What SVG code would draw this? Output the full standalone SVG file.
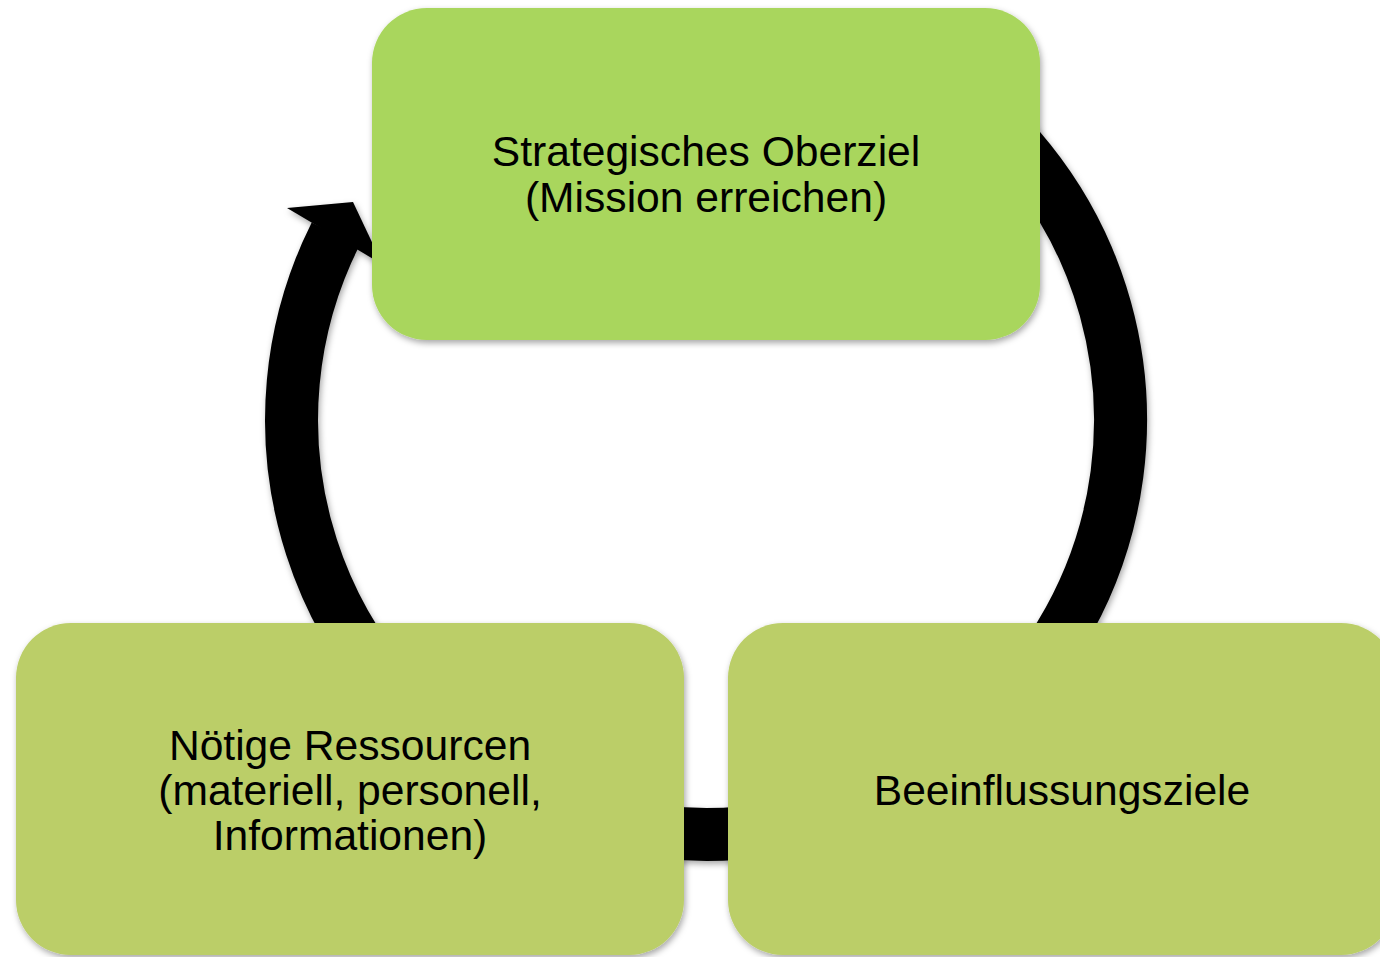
<svg xmlns="http://www.w3.org/2000/svg" width="1380" height="957" viewBox="0 0 1380 957">
  <defs>
    <filter id="shadow" x="-10%" y="-10%" width="120%" height="120%">
      <feDropShadow dx="1.5" dy="3" stdDeviation="3" flood-color="#000" flood-opacity="0.35"/>
    </filter>
  </defs>
  <style>
    .top { fill: #A9D65D; }
    .bottom { fill: #BBCE68; }
    .label { font-family: "Liberation Sans", Arial, sans-serif; font-size: 42.6px; fill: #000; text-anchor: middle; }
    .ring { fill: none; stroke: #000; stroke-width: 53; stroke-linecap: butt; }
  </style>
  <rect width="1380" height="957" fill="#fff"/>
  <g id="connectors" filter="url(#shadow)">
    <path class="ring" d="M 913.25 61 A 414.5 414.5 0 1 1 335.4 234.4"/>
    <polygon points="287,208 353,202 382.5,264.4" fill="#000"/>
  </g>
  <g id="node-strategisches-oberziel">
    <rect class="top" x="372" y="8" width="668" height="332" rx="55" ry="55" filter="url(#shadow)"/>
    <text class="label" x="706" y="166">Strategisches Oberziel</text>
    <text class="label" x="706" y="212">(Mission erreichen)</text>
  </g>
  <g id="node-noetige-ressourcen">
    <rect class="bottom" x="16" y="623" width="668" height="332" rx="55" ry="55" filter="url(#shadow)"/>
    <text class="label" x="350" y="760">Nötige Ressourcen</text>
    <text class="label" x="350" y="805">(materiell, personell,</text>
    <text class="label" x="350" y="850">Informationen)</text>
  </g>
  <g id="node-beeinflussungsziele">
    <rect class="bottom" x="728" y="623" width="668" height="332" rx="55" ry="55" filter="url(#shadow)"/>
    <text class="label" x="1062" y="805">Beeinflussungsziele</text>
  </g>
</svg>
